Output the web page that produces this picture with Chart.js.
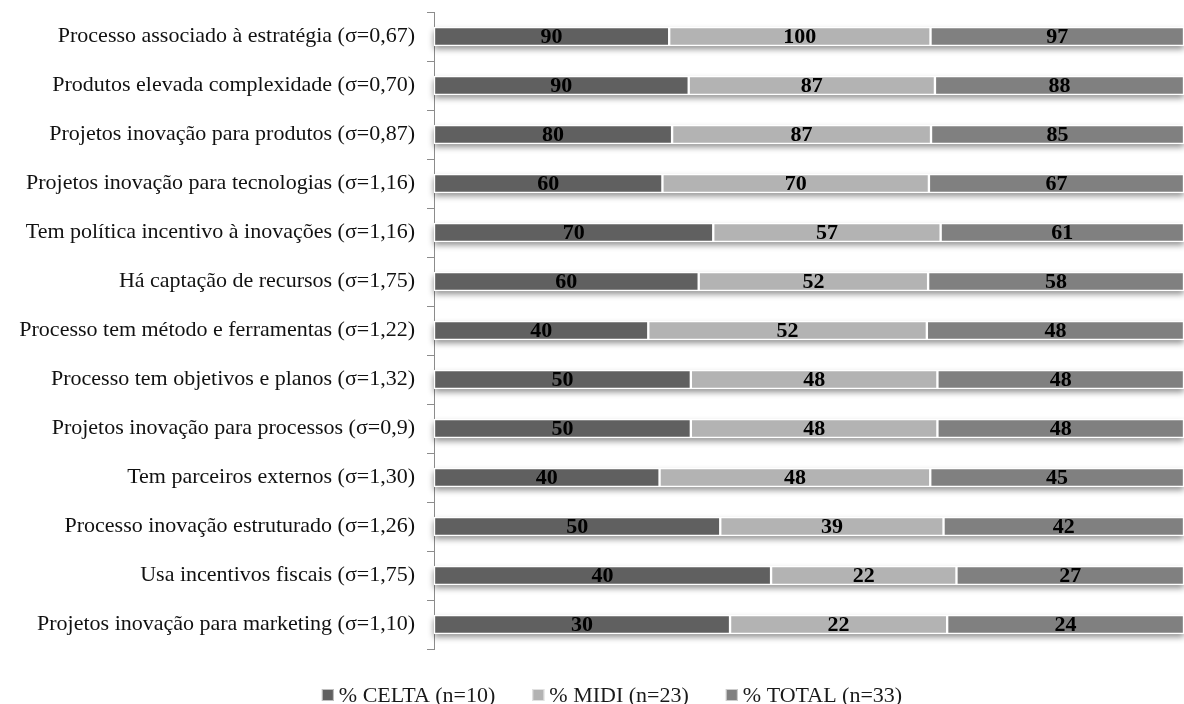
<!DOCTYPE html>
<html>
<head>
<meta charset="utf-8">
<script src="https://cdn.jsdelivr.net/npm/chart.js@4.4.1/dist/chart.umd.min.js"></script>
<style>
  html, body { margin: 0; padding: 0; background: #ffffff; }
  #wrap { width: 1184px; height: 704px; }
</style>
</head>
<body>
<div id="wrap"><canvas id="chart" width="1184" height="704"></canvas></div>
<script>
// Innovation practices, share of companies answering yes (%)
const categories = [
  'Processo associado à estratégia (σ=0,67)',
  'Produtos elevada complexidade (σ=0,70)',
  'Projetos inovação para produtos (σ=0,87)',
  'Projetos inovação para tecnologias (σ=1,16)',
  'Tem política incentivo à inovações (σ=1,16)',
  'Há captação de recursos (σ=1,75)',
  'Processo tem método e ferramentas (σ=1,22)',
  'Processo tem objetivos e planos (σ=1,32)',
  'Projetos inovação para processos (σ=0,9)',
  'Tem parceiros externos (σ=1,30)',
  'Processo inovação estruturado (σ=1,26)',
  'Usa incentivos fiscais (σ=1,75)',
  'Projetos inovação para marketing (σ=1,10)'
];
const celta = [90, 90, 80, 60, 70, 60, 40, 50, 50, 40, 50, 40, 30];
const midi  = [100, 87, 87, 70, 57, 52, 52, 48, 48, 48, 39, 22, 22];
const total = [97, 88, 85, 67, 61, 58, 48, 48, 48, 45, 42, 27, 24];
const seriesNames  = ['% CELTA (n=10)', '% MIDI (n=23)', '% TOTAL (n=33)'];
const seriesColors = ['#606060', '#b3b3b3', '#808080'];

const rawSeries = [celta, midi, total];
// each row is drawn as a 100% stack of its three values
const rowSums = categories.map((_, i) => rawSeries.reduce((s, arr) => s + arr[i], 0));
const toShare = arr => arr.map((v, i) => v / rowSums[i] * 100);

const SERIF = "'Liberation Serif', 'Times New Roman', serif";
const LEGEND_CENTER_X = 612;
const LEGEND_BASELINE = 702;

// soft drop shadow under each full row
const rowShadow = {
  id: 'rowShadow',
  beforeDatasetsDraw(chart) {
    const ctx = chart.ctx;
    const first = chart.getDatasetMeta(0).data;
    const last = chart.getDatasetMeta(chart.data.datasets.length - 1).data;
    ctx.save();
    ctx.shadowColor = 'rgba(0,0,0,0.45)';
    ctx.shadowBlur = 6;
    ctx.shadowOffsetY = 3;
    ctx.fillStyle = '#ffffff';
    first.forEach((el, i) => {
      const left = Math.min(el.base, el.x);
      const right = last[i].x;
      ctx.fillRect(left, el.y - el.height / 2 + 1, right - left, el.height - 1);
    });
    ctx.restore();
  }
};

// raw value printed in the middle of every segment
const valueLabels = {
  id: 'valueLabels',
  afterDatasetsDraw(chart) {
    const ctx = chart.ctx;
    ctx.save();
    ctx.font = 'bold 22px ' + SERIF;
    ctx.fillStyle = '#000000';
    ctx.textAlign = 'center';
    ctx.textBaseline = 'middle';
    chart.data.datasets.forEach((ds, d) => {
      chart.getDatasetMeta(d).data.forEach((el, i) => {
        ctx.fillText(String(rawSeries[d][i]), (el.x + el.base) / 2, el.y + 1);
      });
    });
    ctx.restore();
  }
};

// legend row under the plot
const bottomLegend = {
  id: 'bottomLegend',
  afterDraw(chart) {
    const ctx = chart.ctx;
    const box = 12, gap = 5, spacing = 37;
    ctx.save();
    ctx.font = '22px ' + SERIF;
    const items = chart.data.datasets.map(ds => ({
      text: ds.label, color: ds.backgroundColor, w: ctx.measureText(ds.label).width
    }));
    const totalW = items.reduce((s, it) => s + box + gap + it.w, 0) + spacing * (items.length - 1);
    let x = LEGEND_CENTER_X - totalW / 2;
    ctx.textBaseline = 'alphabetic';
    ctx.textAlign = 'left';
    items.forEach(it => {
      ctx.fillStyle = it.color;
      ctx.fillRect(x, LEGEND_BASELINE - box - 1, box, box);
      ctx.strokeStyle = 'rgba(255,255,255,0.6)';
      ctx.lineWidth = 1;
      ctx.strokeRect(x + 0.5, LEGEND_BASELINE - box - 0.5, box - 1, box - 1);
      ctx.fillStyle = '#1a1a1a';
      ctx.fillText(it.text, x + box + gap, LEGEND_BASELINE);
      x += box + gap + it.w + spacing;
    });
    ctx.restore();
  }
};

new Chart(document.getElementById('chart'), {
  type: 'bar',
  data: {
    labels: categories,
    datasets: rawSeries.map((arr, d) => ({
      label: seriesNames[d],
      data: toShare(arr),
      backgroundColor: seriesColors[d],
      borderColor: '#ffffff',
      borderWidth: 1.5,
      borderSkipped: false,
      barThickness: 19
    }))
  },
  options: {
    indexAxis: 'y',
    responsive: false,
    animation: false,
    layout: { padding: { top: 12, bottom: 55, left: 0, right: 0 } },
    plugins: { legend: { display: false }, tooltip: { enabled: false } },
    scales: {
      x: { stacked: true, min: 0, max: 100, display: false },
      y: {
        stacked: true,
        afterFit(scale) {
          scale.width = 434;
          scale.paddingTop = 0;
          scale.paddingBottom = 0;
        },
        grid: {
          display: true, drawOnChartArea: false, drawTicks: true,
          tickLength: 7, color: '#8c8c8c', offset: true
        },
        border: { display: true, color: '#8c8c8c', width: 1 },
        ticks: {
          autoSkip: false, padding: 12, color: '#111111',
          font: { family: SERIF, size: 22 }
        }
      }
    }
  },
  plugins: [rowShadow, valueLabels, bottomLegend]
});
</script>
</body>
</html>
